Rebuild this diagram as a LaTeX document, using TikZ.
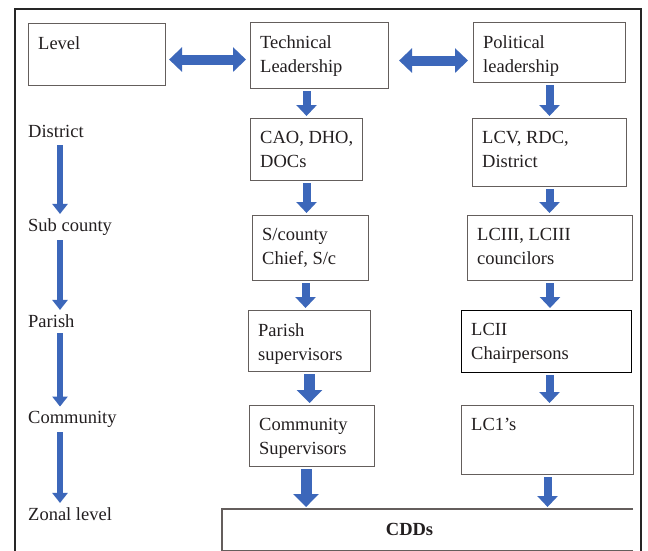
\documentclass[tikz,border=0pt]{standalone}
\usepackage{fontspec}
\setmainfont{Liberation Serif}
\usetikzlibrary{arrows.meta,calc}
\definecolor{arrblue}{RGB}{60,103,186}
\definecolor{boxgray}{RGB}{100,94,92}
\definecolor{txtcol}{RGB}{35,31,32}
\begin{document}
\begin{tikzpicture}[x=1pt,y=-1pt,
  txt/.style={font=\fontsize{18.5}{24}\selectfont, text=txtcol, inner sep=0pt},
  box/.style={draw=boxgray, line width=1.1pt, inner sep=0pt, anchor=north west},
  intext/.style={label={[txt, anchor=north west, align=left, xshift=10pt, yshift=-13pt]north west:{#1}}},
  darr/.style={arrblue, line width=8pt, -{Triangle[width=20pt,length=11pt]}, shorten <=2pt, shorten >=2pt},
  darrw/.style={arrblue, line width=11pt, -{Triangle[width=25pt,length=13pt]}, shorten <=2pt, shorten >=2pt},
  larr/.style={arrblue, line width=6pt, -{Triangle[width=15pt,length=10pt]}},
  dblarr/.style={arrblue, line width=10pt, {Triangle[width=24pt,length=13pt]}-{Triangle[width=24pt,length=13pt]}}
]
\useasboundingbox[fill=white] (0,0) rectangle (648,551);
% outer frame
\draw[line width=1.8pt, black!85] (15,551) -- (15,9) -- (641,9) -- (641,551);

% top row
\node[box, minimum width=137pt, minimum height=62pt, intext={Level}] (lvl) at (28,23) {};
\node[box, minimum width=138pt, minimum height=66pt, intext={Technical\\Leadership}] (tech) at (250,22) {};
\node[box, minimum width=152pt, minimum height=60pt, intext={Political\\leadership}] (pol) at (473,22) {};

% technical column
\node[box, minimum width=112pt, minimum height=62pt, intext={CAO, DHO,\\DOCs}] (cao) at (250,118) {};
\node[box, minimum width=116pt, minimum height=65pt, intext={S/county\\Chief, S/c}] (sc) at (252,215) {};
\node[box, minimum width=122pt, minimum height=61pt, intext={Parish\\supervisors}] (par) at (248,310) {};
\node[box, minimum width=125pt, minimum height=61pt, intext={Community\\Supervisors}] (com) at (249,405) {};

% political column
\node[box, minimum width=154pt, minimum height=68pt, intext={LCV, RDC,\\District}] (lcv) at (472,118) {};
\node[box, minimum width=165pt, minimum height=65pt, intext={LCIII, LCIII\\councilors}] (lc3) at (467,215) {};
\node[box, draw=black, minimum width=170pt, minimum height=62pt, intext={LCII\\Chairpersons}] (lc2) at (461,310) {};
\node[box, minimum width=172pt, minimum height=69pt, intext={LC1’s}] (lc1) at (461,405) {};

% CDDs (open on the right)
\node[box, draw=none, minimum width=410pt, minimum height=40pt] (cdd) at (222,509) {};
\draw[boxgray, line width=1.1pt] (cdd.north east) -- (cdd.north west) -- (cdd.south west) -- (cdd.south east);
\node[txt, font=\fontsize{18.5}{24}\selectfont\bfseries] (cddt) at ([xshift=-18pt]cdd.center) {CDDs};

% level labels
\node[txt, anchor=base west] (dist) at (28,137) {District};
\node[txt, anchor=base west] (sub) at (28,231) {Sub county};
\node[txt, anchor=base west] (parl) at (28,327) {Parish};
\node[txt, anchor=base west] (comm) at (28,423) {Community};
\node[txt, anchor=base west] (zon) at (28,520) {Zonal level};

% left arrows
\draw[larr, shorten <=8pt, shorten >=4pt] ([xshift=32pt]dist.south west) -- ([xshift=32pt]dist.south west |- sub.north);
\draw[larr, shorten <=5pt, shorten >=4pt] ([xshift=32pt]sub.south west) -- ([xshift=32pt]sub.south west |- parl.north);
\draw[larr, shorten <=6pt, shorten >=4pt] ([xshift=32pt]parl.south west) -- ([xshift=32pt]parl.south west |- comm.north);
\draw[larr, shorten <=5pt, shorten >=4pt] ([xshift=32pt]comm.south west) -- ([xshift=32pt]comm.south west |- zon.north);

% double arrows
\draw[dblarr, shorten <=3pt, shorten >=4pt] ([yshift=-5pt]lvl.east) -- ([yshift=-5pt]lvl.east -| tech.west);
\draw[dblarr, shorten <=10pt, shorten >=5pt] ([yshift=-5pt]tech.east) -- ([yshift=-5pt]tech.east -| pol.west);

% technical column arrows
\draw[darr] (cao.north |- tech.south) -- (cao.north);
\draw[darr] (cao.south) -- (cao.south |- sc.north);
\draw[darr] ([xshift=-5pt]sc.south) -- ([xshift=-5pt]sc.south |- par.north);
\draw[darrw] (par.south) -- (par.south |- com.north);
\draw[darrw] ([xshift=-6pt]com.south) -- ([xshift=-6pt]com.south |- cdd.north);

% political column arrows
\draw[darr] (pol.south) -- (pol.south |- lcv.north);
\draw[darr] (lcv.south) -- (lcv.south |- lc3.north);
\draw[darr] (lc3.south) -- (lc3.south |- lc2.north);
\draw[darr] ([xshift=3pt]lc2.south) -- ([xshift=3pt]lc2.south |- lc1.north);
\draw[darr] (lc1.south) -- (lc1.south |- cdd.north);
\end{tikzpicture}
\end{document}
